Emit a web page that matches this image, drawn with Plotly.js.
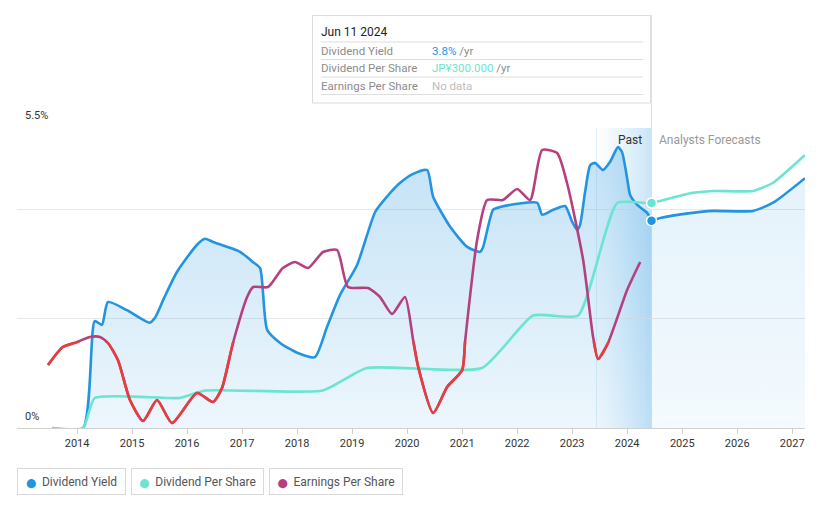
<!DOCTYPE html>
<html><head><meta charset="utf-8">
<script src="https://cdn.plot.ly/plotly-3.0.1.min.js"></script>
<style>html,body{margin:0;padding:0;background:#fff;}#chart{width:821px;height:508px;}</style>
</head><body><div id="chart"></div>
<script>
// ---- data ----
const yieldDates = ['2013-07-18','2014-02-10','2014-04-28','2014-06-15','2014-07-25','2014-11-28','2015-04-28','2015-06-02','2015-08-01','2015-10-26','2016-03-07','2016-04-29','2016-06-22','2016-12-18','2017-03-15','2017-04-30','2017-06-16','2017-09-10','2018-01-01','2018-04-29','2018-07-18','2018-10-13','2019-02-03','2019-06-03','2019-08-20','2019-11-14','2020-02-10','2020-05-13','2020-06-22','2020-10-13','2021-02-03','2021-04-30','2021-05-20','2021-07-25','2021-09-10','2022-01-01','2022-05-14','2022-06-16','2022-08-28','2022-11-15','2023-01-01','2023-02-03','2023-02-22','2023-03-28','2023-05-01','2023-06-03','2023-07-25','2023-09-10','2023-11-01','2023-11-28','2024-01-01','2024-01-21','2024-03-08','2024-05-14','2024-06-11'];
const yieldValues = [0,0,1.96,1.89,2.31,2.16,1.93,2.02,2.38,2.86,3.36,3.47,3.41,3.23,3.04,2.93,1.80,1.56,1.38,1.30,1.85,2.44,2.99,3.96,4.24,4.49,4.66,4.73,4.24,3.69,3.32,3.23,3.32,4.00,4.05,4.11,4.13,3.91,4.00,4.07,3.78,3.63,3.72,4.33,4.82,4.86,4.73,4.88,5.15,5.06,4.58,4.27,4.09,3.94,3.80];
const yieldFcDates = ['2024-06-11','2024-08-08','2025-02-22','2025-07-25','2026-04-16','2026-08-27','2027-03-27'];
const yieldFcValues = [3.80,3.85,3.94,3.98,3.98,4.13,4.58];

const dpsDates = ['2013-07-18','2014-02-10','2014-04-28','2015-11-14','2016-04-29','2018-06-21','2019-04-08','2021-05-12','2022-04-16','2023-02-10','2023-10-27','2024-06-11'];
const dpsValues = [0,0,40,40,50,50,80,80,150,150,300,300];
const dpsFcDates = ['2024-06-11','2025-02-22','2025-07-25','2026-04-16','2026-08-27','2027-03-27'];
const dpsFcValues = [300,313,316,316,327,364];

const epsDates = ['2013-06-22','2013-09-28','2014-01-01','2014-03-28','2014-06-02','2014-07-25','2014-09-29','2014-12-18','2015-03-15','2015-06-16','2015-09-23','2016-03-07','2016-06-22','2016-08-20','2016-11-01','2017-02-03','2017-03-15','2017-06-22','2017-09-28','2017-12-18','2018-03-15','2018-06-22','2018-09-23','2018-12-05','2019-04-17','2019-07-05','2019-09-23','2019-12-18','2020-02-10','2020-03-15','2020-06-22','2020-09-23','2021-01-01','2021-01-21','2021-04-10','2021-06-16','2021-09-28','2022-01-01','2022-03-28','2022-06-16','2022-09-23','2022-11-28','2023-03-15','2023-05-20','2023-06-22','2023-08-27','2024-01-01','2024-03-28'];
const epsValues = [-115,-25,0,25,25,-5,-90,-290,-395,-290,-405,-255,-300,-230,-5,225,275,275,370,400,370,450,460,275,270,225,140,225,10,-125,-355,-225,-140,10,510,710,710,765,710,960,945,795,410,25,-85,-5,260,400];

const yearLabels = ['2014','2015','2016','2017','2018','2019','2020','2021','2022','2023','2024','2025','2026','2027'];
const yTickVals = [0,2,4,5.5];
const hoverDate = '2024-06-11';
const hoverLabel = 'Jun 11 2024';
const pastStart = '2023-06-11';

// ---- style ----
const BLUE = '#2394df', TEAL = '#6ce4d2', PURPLE = '#b5407f', RED = '#e53e3e';
const FONT = 'Roboto, "Open Sans", sans-serif';
const xRange = ['2012-11-28','2027-03-27'];
const epsRange = [-430, 1070];
const L = 17, R = 16, T = 128, B = 80, W = 821, H = 508;
const pw = W - L - R, ph = H - T - B;
const px = x => (x - L) / pw;          // pixel -> paper x
const py = y => (T + ph - y) / ph;     // pixel -> paper y
const iso = t => new Date(t).toISOString().slice(0, 19).replace('T', ' ');

const traces = [
  {x: yieldDates, y: yieldValues, type: 'scatter', mode: 'lines', line: {color: BLUE, width: 2.6, shape: 'spline', smoothing: 0.6},
   fill: 'tozeroy', fillgradient: {type: 'vertical', colorscale: [[0, 'rgba(35,148,223,0.08)'], [1, 'rgba(35,148,223,0.27)']]}},
  {x: yieldFcDates, y: yieldFcValues, type: 'scatter', mode: 'lines', line: {color: BLUE, width: 2.6, shape: 'spline', smoothing: 0.6},
   fill: 'tozeroy', fillgradient: {type: 'vertical', colorscale: [[0, 'rgba(35,148,223,0.05)'], [1, 'rgba(35,148,223,0.12)']]}},
  {x: dpsDates.concat(dpsFcDates.slice(1)), y: dpsValues.concat(dpsFcValues.slice(1)), yaxis: 'y2', type: 'scatter', mode: 'lines',
   line: {color: TEAL, width: 2.6, shape: 'spline', smoothing: 0.5}},
  {x: epsDates, y: epsValues, yaxis: 'y3', type: 'scatter', mode: 'lines', line: {color: PURPLE, width: 2.6, shape: 'spline', smoothing: 0.6}},
  {x: epsDates, y: epsValues, xaxis: 'x2', yaxis: 'y4', type: 'scatter', mode: 'lines', line: {color: RED, width: 2.6, shape: 'spline', smoothing: 0.6}},
  {x: [hoverDate], y: [dpsValues[dpsValues.length - 1]], yaxis: 'y2', type: 'scatter', mode: 'markers',
   marker: {color: TEAL, size: 10, line: {color: '#fff', width: 1.5}}},
  {x: [hoverDate], y: [yieldValues[yieldValues.length - 1]], xaxis: 'x', yaxis: 'y5', type: 'scatter', mode: 'markers',
   marker: {color: BLUE, size: 10, line: {color: '#fff', width: 1.5}}}
];

// past band: horizontal gradient built from thin strips
const shapes = [];
const t0 = new Date(pastStart + 'T00:00:00Z').getTime(), t1 = new Date(hoverDate + 'T00:00:00Z').getTime();
const N = 24;
for (let i = 0; i < N; i++) {
  const a = 0.01 + 0.24 * Math.pow((i + 0.5) / N, 1.3);
  shapes.push({type: 'rect', layer: 'below', xref: 'x', yref: 'paper',
    x0: iso(t0 + (t1 - t0) * i / N), x1: iso(t0 + (t1 - t0) * (i + 1) / N),
    y0: 0, y1: 1, line: {width: 0}, fillcolor: 'rgba(35,148,223,' + a.toFixed(3) + ')'});
}
shapes.push({type: 'line', layer: 'below', xref: 'x', yref: 'paper', x0: pastStart, x1: pastStart, y0: 0, y1: 1, line: {color: 'rgba(35,148,223,0.15)', width: 1}});
shapes.push({type: 'line', layer: 'below', xref: 'x', yref: 'paper', x0: hoverDate, x1: hoverDate, y0: 0, y1: py(15), line: {color: '#d2e4f1', width: 1}});
// tooltip box
shapes.push({type: 'rect', layer: 'above', xref: 'paper', yref: 'paper', x0: px(312.5), x1: px(650.5), y0: py(103), y1: py(15.5), fillcolor: '#fff', line: {color: '#dcdcdc', width: 1}});
[42, 59.5, 77, 94.5].forEach(yy => shapes.push({type: 'line', layer: 'above', xref: 'paper', yref: 'paper', x0: px(321), x1: px(643), y0: py(yy), y1: py(yy), line: {color: '#dedede', width: 1}}));

const lastYield = yieldValues[yieldValues.length - 1];
const lastDps = dpsValues[dpsValues.length - 1];
const tipFont = {family: FONT, size: 11.5, color: '#8c8c8c'};
const ann = (text, x, y, font, xanchor) => ({text, x, y, xref: 'paper', yref: 'paper', xanchor: xanchor || 'left', yanchor: 'middle', showarrow: false, font, borderpad: 0});
const annotations = [
  ann(hoverLabel, px(320), py(32), {family: FONT, size: 12, color: '#222'}),
  ann('Dividend Yield', px(320), py(50.5), tipFont),
  ann('<span style="color:' + BLUE + '">' + lastYield.toFixed(1) + '%</span> /yr', px(431), py(50.5), tipFont),
  ann('Dividend Per Share', px(320), py(68), tipFont),
  ann('<span style="color:' + TEAL + '">JP¥' + lastDps.toFixed(3) + '</span> /yr', px(431), py(68), tipFont),
  ann('Earnings Per Share', px(320), py(85.5), tipFont),
  ann('No data', px(431), py(85.5), {family: FONT, size: 11.5, color: '#bdbdbd'}),
  ann('Past', px(643), py(140), {family: FONT, size: 12, color: '#333'}, 'right'),
  ann('Analysts Forecasts', px(658), py(140), {family: FONT, size: 12, color: '#999'}),
  ann('5.5%', px(24), py(116), {family: FONT, size: 11, color: '#333'}),
  ann('0%', px(24), py(416), {family: FONT, size: 11, color: '#333'})
];
const legendItems = [['Dividend Yield', BLUE, 16.5, 109], ['Dividend Per Share', TEAL, 130.5, 133], ['Earnings Per Share', PURPLE, 268.5, 134]];
legendItems.forEach(([name, col, x, w]) => annotations.push({
  text: '<span style="color:' + col + ';font-family:DejaVu Sans;font-size:9px">⬤</span>  ' + name, x: px(x), y: py(468), xref: 'paper', yref: 'paper',
  xanchor: 'left', yanchor: 'top', showarrow: false, width: w - 10, height: 17, align: 'center', valign: 'middle',
  bordercolor: '#d9d9d9', borderwidth: 1, borderpad: 4, bgcolor: '#fff', font: {family: FONT, size: 12, color: '#555'}
}));

const layout = {
  width: W, height: H, margin: {l: L, r: R, t: T, b: B, pad: 0},
  paper_bgcolor: '#fff', plot_bgcolor: 'rgba(0,0,0,0)', showlegend: false, hovermode: false,
  xaxis: {type: 'date', range: xRange, domain: [0, 1], anchor: 'y', tickvals: yearLabels.map(y => y + '-01-01'), ticktext: yearLabels,
    ticks: 'outside', ticklen: 5, tickcolor: '#d0d0d0', showline: true, linecolor: '#d0d0d0', linewidth: 1, showgrid: false, zeroline: false,
    tickfont: {family: FONT, size: 11, color: '#333'}, fixedrange: true},
  yaxis: {range: [0, 5.5], domain: [0, 1], tickvals: yTickVals, showticklabels: false, showgrid: true, gridcolor: '#e8e8e8', gridwidth: 1,
    zeroline: false, fixedrange: true},
  yaxis2: {overlaying: 'y', range: [0, 400], visible: false, fixedrange: true},
  yaxis3: {overlaying: 'y', range: epsRange, visible: false, fixedrange: true},
  yaxis5: {overlaying: 'y', range: [0, 5.5], visible: false, fixedrange: true},
  xaxis2: {type: 'date', matches: 'x', range: xRange, domain: [0, 1], anchor: 'y4', visible: false, fixedrange: true},
  yaxis4: {anchor: 'x2', domain: [0, (0 - epsRange[0]) / (epsRange[1] - epsRange[0])], range: [epsRange[0], 0], visible: false, fixedrange: true},
  shapes, annotations
};
Plotly.newPlot('chart', traces, layout, {displayModeBar: false, staticPlot: true});
</script></body></html>
